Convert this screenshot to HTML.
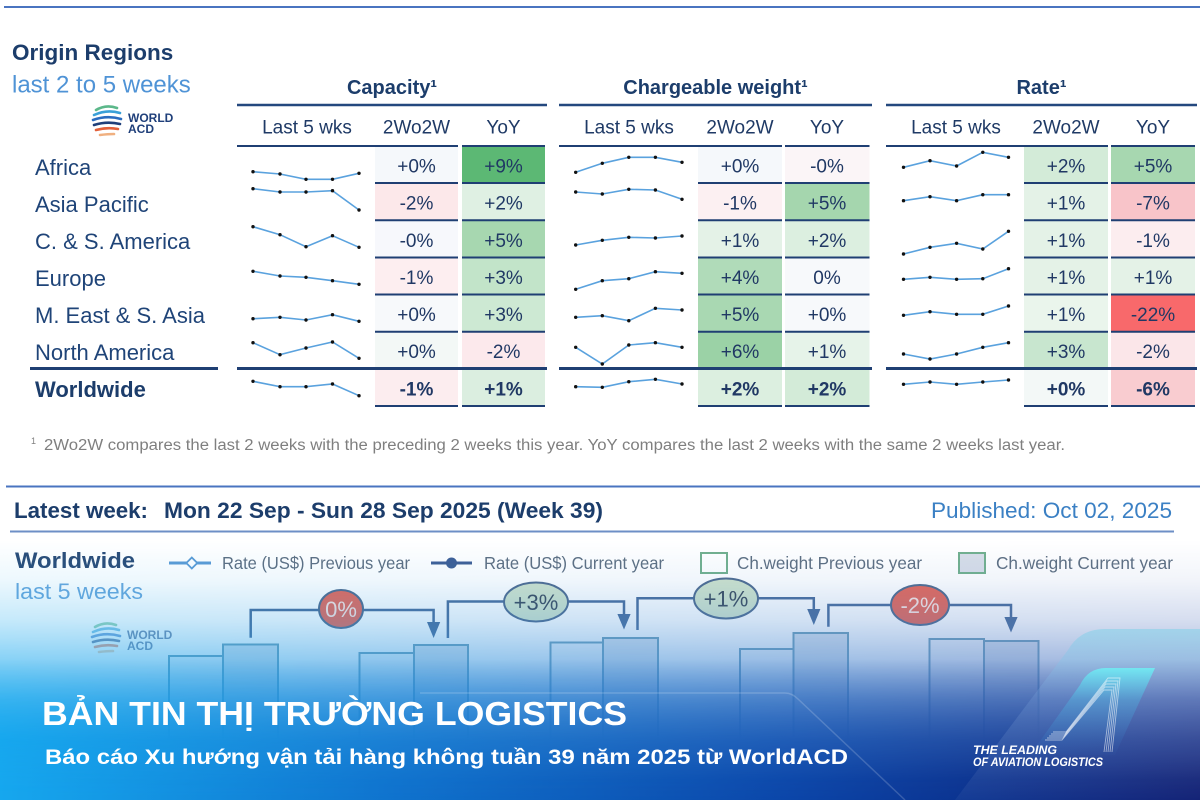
<!DOCTYPE html>
<html><head><meta charset="utf-8"><style>
html,body{margin:0;padding:0;background:#fff;}
svg{display:block;}
text{font-family:"Liberation Sans","DejaVu Sans",Arial,sans-serif;}
</style></head><body>
<svg width="1200" height="800" viewBox="0 0 1200 800" xmlns="http://www.w3.org/2000/svg">
<defs>
<marker id="d" viewBox="0 0 4 4" refX="2" refY="2" markerWidth="4" markerHeight="4" markerUnits="userSpaceOnUse"><circle cx="2" cy="2" r="1.7" fill="#111"/></marker>
<linearGradient id="hA" x1="0" y1="0" x2="1200" y2="0" gradientUnits="userSpaceOnUse">
<stop offset="0" stop-color="#18a8ee"/><stop offset="0.5" stop-color="#3f8fd8"/><stop offset="1" stop-color="#5a78c0"/></linearGradient>
<linearGradient id="hB" x1="0" y1="0" x2="1200" y2="0" gradientUnits="userSpaceOnUse">
<stop offset="0" stop-color="#16a7ee"/><stop offset="0.33" stop-color="#0f72cd"/><stop offset="0.66" stop-color="#0b45a8"/><stop offset="1" stop-color="#0a1a70"/></linearGradient>
<linearGradient id="mA" x1="0" y1="540" x2="0" y2="800" gradientUnits="userSpaceOnUse">
<stop offset="0" stop-color="#fff" stop-opacity="0"/>
<stop offset="0.154" stop-color="#fff" stop-opacity="0.08"/>
<stop offset="0.308" stop-color="#fff" stop-opacity="0.25"/>
<stop offset="0.385" stop-color="#fff" stop-opacity="0.38"/>
<stop offset="0.615" stop-color="#fff" stop-opacity="0.8"/>
<stop offset="0.77" stop-color="#fff" stop-opacity="1"/>
<stop offset="1" stop-color="#fff" stop-opacity="1"/></linearGradient>
<linearGradient id="mB" x1="0" y1="540" x2="0" y2="800" gradientUnits="userSpaceOnUse">
<stop offset="0" stop-color="#fff" stop-opacity="0"/>
<stop offset="0.46" stop-color="#fff" stop-opacity="0"/>
<stop offset="0.692" stop-color="#fff" stop-opacity="0.5"/>
<stop offset="0.923" stop-color="#fff" stop-opacity="0.95"/>
<stop offset="1" stop-color="#fff" stop-opacity="1"/></linearGradient>
<mask id="maskA"><rect x="0" y="540" width="1200" height="260" fill="url(#mA)"/></mask>
<mask id="maskB"><rect x="0" y="540" width="1200" height="260" fill="url(#mB)"/></mask>
<linearGradient id="band" x1="0" y1="629" x2="0" y2="800" gradientUnits="userSpaceOnUse">
<stop offset="0" stop-color="#6fd0e8" stop-opacity="0.45"/><stop offset="0.4" stop-color="#8fb8e8" stop-opacity="0.18"/><stop offset="1" stop-color="#ffffff" stop-opacity="0.04"/></linearGradient>
<linearGradient id="cyan" x1="0" y1="668" x2="0" y2="760" gradientUnits="userSpaceOnUse">
<stop offset="0" stop-color="#6ff0f5" stop-opacity="0.85"/><stop offset="0.35" stop-color="#4cc0e8" stop-opacity="0.35"/><stop offset="1" stop-color="#3a8ad8" stop-opacity="0"/></linearGradient>
</defs>
<rect width="1200" height="800" fill="#fff"/>
<line x1="4" y1="7" x2="1200" y2="7" stroke="#4a74c0" stroke-width="2"/>

<text x="12" y="60" font-size="22.5" font-weight="bold" fill="#1c3d6b">Origin Regions</text>
<text x="12" y="92.5" font-size="24" fill="#4f93d6">last 2 to 5 weeks</text>

<!-- logo -->
<g id="logo">
<g fill="none" stroke-linecap="round" stroke-width="2.6">
<path d="M96,110 Q106,104 117,108" stroke="#5cb88a"/>
<path d="M94,115 Q107,109 120,113" stroke="#3aa0d8"/>
<path d="M93,120 Q107,115 121,119" stroke="#2a6cc0"/>
<path d="M94,125 Q107,121 120,124" stroke="#1f3f7a"/>
<path d="M96,130 Q107,127 118,129" stroke="#e2603a"/>
<path d="M100,135 Q108,134 114,134" stroke="#f0b080"/>
</g>
<text x="128" y="122" font-size="12" font-weight="bold" fill="#1f3f7a">WORLD</text>
<text x="128" y="133" font-size="12" font-weight="bold" fill="#1f3f7a">ACD</text>
</g>

<!-- headers -->
<g font-size="20" font-weight="bold" fill="#1c3d6b" text-anchor="middle">
<text x="392" y="94">Capacity¹</text>
<text x="715.5" y="94">Chargeable weight¹</text>
<text x="1041.5" y="94">Rate¹</text>
</g>
<g stroke="#24487e" stroke-width="2.5">
<line x1="237" y1="105" x2="547" y2="105"/>
<line x1="559" y1="105" x2="872" y2="105"/>
<line x1="886" y1="105" x2="1197" y2="105"/>
</g>
<g font-size="19" fill="#1f3a66" text-anchor="middle">
<text x="307" y="133.5">Last 5 wks</text><text x="416.5" y="133.5">2Wo2W</text><text x="503.5" y="133.5">YoY</text>
<text x="629" y="133.5">Last 5 wks</text><text x="740" y="133.5">2Wo2W</text><text x="827" y="133.5">YoY</text>
<text x="956" y="133.5">Last 5 wks</text><text x="1066" y="133.5">2Wo2W</text><text x="1153" y="133.5">YoY</text>
</g>

<!-- cells -->
<g>
<!-- capacity c1 -->
<rect x="375" y="146" width="83" height="37" fill="#f5f8fb"/>
<rect x="375" y="183" width="83" height="37.3" fill="#fce8ea"/>
<rect x="375" y="220.3" width="83" height="37.2" fill="#f7f8fc"/>
<rect x="375" y="257.5" width="83" height="37" fill="#fdeef0"/>
<rect x="375" y="294.5" width="83" height="37.2" fill="#f7f9fb"/>
<rect x="375" y="331.7" width="83" height="36.8" fill="#f3f8f6"/>
<rect x="375" y="368.5" width="83" height="37.5" fill="#fcedef"/>
<!-- capacity c2 -->
<rect x="462" y="146" width="83" height="37" fill="#5cb874"/>
<rect x="462" y="183" width="83" height="37.3" fill="#dff0e3"/>
<rect x="462" y="220.3" width="83" height="37.2" fill="#a7d7b0"/>
<rect x="462" y="257.5" width="83" height="37" fill="#c2e4c9"/>
<rect x="462" y="294.5" width="83" height="37.2" fill="#cde9d3"/>
<rect x="462" y="331.7" width="83" height="36.8" fill="#fce9ec"/>
<rect x="462" y="368.5" width="83" height="37.5" fill="#dbeee0"/>
<!-- ch c1 -->
<rect x="698" y="146" width="84" height="37" fill="#f5f8fb"/>
<rect x="698" y="183" width="84" height="37.3" fill="#fcf0f2"/>
<rect x="698" y="220.3" width="84" height="37.2" fill="#e4f2e7"/>
<rect x="698" y="257.5" width="84" height="37" fill="#b0dbb9"/>
<rect x="698" y="294.5" width="84" height="37.2" fill="#a9d8b2"/>
<rect x="698" y="331.7" width="84" height="36.8" fill="#9bd2a6"/>
<rect x="698" y="368.5" width="84" height="37.5" fill="#dcefe0"/>
<!-- ch c2 -->
<rect x="785" y="146" width="84.5" height="37" fill="#fbf5f7"/>
<rect x="785" y="183" width="84.5" height="37.3" fill="#a5d6ae"/>
<rect x="785" y="220.3" width="84.5" height="37.2" fill="#dcefe0"/>
<rect x="785" y="257.5" width="84.5" height="37" fill="#f7f9fb"/>
<rect x="785" y="294.5" width="84.5" height="37.2" fill="#f7f9fb"/>
<rect x="785" y="331.7" width="84.5" height="36.8" fill="#e6f3e9"/>
<rect x="785" y="368.5" width="84.5" height="37.5" fill="#d3ebd8"/>
<!-- rate c1 -->
<rect x="1024" y="146" width="84" height="37" fill="#d3ebd8"/>
<rect x="1024" y="183" width="84" height="37.3" fill="#e4f2e7"/>
<rect x="1024" y="220.3" width="84" height="37.2" fill="#e4f2e7"/>
<rect x="1024" y="257.5" width="84" height="37" fill="#e4f2e7"/>
<rect x="1024" y="294.5" width="84" height="37.2" fill="#eaf5ec"/>
<rect x="1024" y="331.7" width="84" height="36.8" fill="#c8e6cf"/>
<rect x="1024" y="368.5" width="84" height="37.5" fill="#f3f8f7"/>
<!-- rate c2 -->
<rect x="1111" y="146" width="84" height="37" fill="#a7d7b0"/>
<rect x="1111" y="183" width="84" height="37.3" fill="#f8c4c9"/>
<rect x="1111" y="220.3" width="84" height="37.2" fill="#fcedef"/>
<rect x="1111" y="257.5" width="84" height="37" fill="#e4f2e7"/>
<rect x="1111" y="294.5" width="84" height="37.2" fill="#f8696b"/>
<rect x="1111" y="331.7" width="84" height="36.8" fill="#fbe6e9"/>
<rect x="1111" y="368.5" width="84" height="37.5" fill="#f9ccd0"/>
</g>

<!-- row lines -->
<g stroke="#1f3f73" stroke-width="2">
<line x1="237" y1="146" x2="458" y2="146"/><line x1="462" y1="146" x2="545" y2="146"/>
<line x1="559" y1="146" x2="782" y2="146"/><line x1="785" y1="146" x2="869.5" y2="146"/>
<line x1="886" y1="146" x2="1108" y2="146"/><line x1="1111" y1="146" x2="1195" y2="146"/>
</g>
<g stroke="#1f3f73" stroke-width="2">
<path d="M375,183H458M462,183H545M698,183H782M785,183H869.5M1024,183H1108M1111,183H1195"/>
<path d="M375,220.3H458M462,220.3H545M698,220.3H782M785,220.3H869.5M1024,220.3H1108M1111,220.3H1195"/>
<path d="M375,257.5H458M462,257.5H545M698,257.5H782M785,257.5H869.5M1024,257.5H1108M1111,257.5H1195"/>
<path d="M375,294.5H458M462,294.5H545M698,294.5H782M785,294.5H869.5M1024,294.5H1108M1111,294.5H1195"/>
<path d="M375,331.7H458M462,331.7H545M698,331.7H782M785,331.7H869.5M1024,331.7H1108M1111,331.7H1195"/>
<path d="M375,406H458M462,406H545M698,406H782M785,406H869.5M1024,406H1108M1111,406H1195"/>
</g>
<g stroke="#1f3f73" stroke-width="3">
<line x1="30" y1="368.5" x2="218" y2="368.5"/>
<line x1="237" y1="368.5" x2="547" y2="368.5"/>
<line x1="559" y1="368.5" x2="872" y2="368.5"/>
<line x1="886" y1="368.5" x2="1197" y2="368.5"/>
</g>

<!-- region labels -->
<g font-size="22" fill="#1f4478">
<text x="35" y="175">Africa</text>
<text x="35" y="212">Asia Pacific</text>
<text x="35" y="249">C. &amp; S. America</text>
<text x="35" y="286">Europe</text>
<text x="35" y="323">M. East &amp; S. Asia</text>
<text x="35" y="360">North America</text>
<text x="35" y="397" font-weight="bold" fill="#1c3d6b">Worldwide</text>
</g>

<!-- values -->
<g font-size="19" fill="#203864" text-anchor="middle">
<text x="416.5" y="172.5">+0%</text><text x="416.5" y="209.6">-2%</text><text x="416.5" y="246.9">-0%</text><text x="416.5" y="284">-1%</text><text x="416.5" y="321.1">+0%</text><text x="416.5" y="358.1">+0%</text>
<text x="503.5" y="172.5">+9%</text><text x="503.5" y="209.6">+2%</text><text x="503.5" y="246.9">+5%</text><text x="503.5" y="284">+3%</text><text x="503.5" y="321.1">+3%</text><text x="503.5" y="358.1">-2%</text>
<text x="740" y="172.5">+0%</text><text x="740" y="209.6">-1%</text><text x="740" y="246.9">+1%</text><text x="740" y="284">+4%</text><text x="740" y="321.1">+5%</text><text x="740" y="358.1">+6%</text>
<text x="827" y="172.5">-0%</text><text x="827" y="209.6">+5%</text><text x="827" y="246.9">+2%</text><text x="827" y="284">0%</text><text x="827" y="321.1">+0%</text><text x="827" y="358.1">+1%</text>
<text x="1066" y="172.5">+2%</text><text x="1066" y="209.6">+1%</text><text x="1066" y="246.9">+1%</text><text x="1066" y="284">+1%</text><text x="1066" y="321.1">+1%</text><text x="1066" y="358.1">+3%</text>
<text x="1153" y="172.5">+5%</text><text x="1153" y="209.6">-7%</text><text x="1153" y="246.9">-1%</text><text x="1153" y="284">+1%</text><text x="1153" y="321.1">-22%</text><text x="1153" y="358.1">-2%</text>
<g font-weight="bold">
<text x="416.5" y="395.3">-1%</text><text x="503.5" y="395.3">+1%</text>
<text x="740" y="395.3">+2%</text><text x="827" y="395.3">+2%</text>
<text x="1066" y="395.3">+0%</text><text x="1153" y="395.3">-6%</text>
</g>
</g>

<!-- sparklines -->
<g fill="none" stroke="#5aa2de" stroke-width="1.6" marker-start="url(#d)" marker-mid="url(#d)" marker-end="url(#d)">
<polyline points="253,171.7 280,174 306,179.3 332.5,179.3 359,173.3"/>
<polyline points="253,188.7 280,192 306,192 332.5,190.7 359,210"/>
<polyline points="253,226.7 280,234.7 306,246.7 332.5,235.7 359,247.3"/>
<polyline points="253,271.3 280,276 306,277.3 332.5,280.7 359,284.3"/>
<polyline points="253,318.7 280,317.3 306,320 332.5,314.7 359,321.3"/>
<polyline points="253,342.7 280,354.7 306,348 332.5,342 359,358.3"/>
<polyline points="253,381.3 280,386.7 306,386.7 332.5,384 359,395.7"/>

<polyline points="575.7,172.3 602.3,163.3 628.8,157.3 655.4,157.3 682,162.3"/>
<polyline points="575.7,192 602.3,194 628.8,189.3 655.4,190 682,199.3"/>
<polyline points="575.7,245 602.3,240.3 628.8,237.3 655.4,238 682,236"/>
<polyline points="575.7,289.3 602.3,280.7 628.8,278.7 655.4,271.7 682,273.3"/>
<polyline points="575.7,317.3 602.3,315.7 628.8,320.7 655.4,308.3 682,310"/>
<polyline points="575.7,347.3 602.3,364 628.8,345 655.4,342.7 682,347.3"/>
<polyline points="575.7,386.7 602.3,387.3 628.8,381.7 655.4,379.3 682,384"/>

<polyline points="903.5,167.3 930,160.7 956.6,166 982.8,152.3 1008.5,157.3"/>
<polyline points="903.5,200.7 930,196.7 956.6,200.7 982.8,194.7 1008.5,194.7"/>
<polyline points="903.5,254 930,247.3 956.6,243.3 982.8,249 1008.5,231.3"/>
<polyline points="903.5,279.3 930,277.3 956.6,279.3 982.8,278.7 1008.5,268.7"/>
<polyline points="903.5,315.3 930,311.7 956.6,314.3 982.8,314.3 1008.5,306"/>
<polyline points="903.5,354 930,359 956.6,354 982.8,347.3 1008.5,342.7"/>
<polyline points="903.5,384.3 930,382 956.6,384.3 982.8,382 1008.5,380"/>
</g>

<!-- footnote -->
<text x="31" y="444" font-size="9" fill="#808080">1</text>
<text x="44" y="450" font-size="15.5" fill="#7f7f7f" textLength="1021" lengthAdjust="spacingAndGlyphs">2Wo2W compares the last 2 weeks with the preceding 2 weeks this year. YoY compares the last 2 weeks with the same 2 weeks last year.</text>

<line x1="6" y1="486.5" x2="1200" y2="486.5" stroke="#4a74c0" stroke-width="2"/>
<text x="14" y="518" font-size="22" font-weight="bold" fill="#1c3d6b" textLength="134" lengthAdjust="spacingAndGlyphs">Latest week:</text>
<text x="164" y="518" font-size="22" font-weight="bold" fill="#1c3d6b" textLength="439" lengthAdjust="spacingAndGlyphs">Mon 22 Sep - Sun 28 Sep 2025 (Week 39)</text>
<text x="931" y="518" font-size="22" fill="#3b80c4" textLength="241" lengthAdjust="spacingAndGlyphs">Published: Oct 02, 2025</text>
<line x1="10" y1="531.5" x2="1174" y2="531.5" stroke="#6d8fc6" stroke-width="2"/>

<!-- lower chart (under overlay) -->
<text x="15" y="568" font-size="22" font-weight="bold" fill="#2b4c78" textLength="120" lengthAdjust="spacingAndGlyphs">Worldwide</text>
<text x="15" y="599" font-size="22" fill="#6aa7dc" textLength="128" lengthAdjust="spacingAndGlyphs">last 5 weeks</text>
<g transform="translate(-1,517)" opacity="0.6"><use href="#logo"/></g>

<line x1="169" y1="563" x2="211" y2="563" stroke="#5b9bd5" stroke-width="3"/>
<path d="M191.8,557.5 L197.3,563 L191.8,568.5 L186.3,563Z" fill="#fff" stroke="#5b9bd5" stroke-width="1.8"/>
<g font-size="17.5" fill="#5e6f82">
<text x="222" y="569" textLength="188" lengthAdjust="spacingAndGlyphs">Rate (US$) Previous year</text>
<text x="484" y="569" textLength="180" lengthAdjust="spacingAndGlyphs">Rate (US$) Current year</text>
<text x="737" y="569" textLength="185" lengthAdjust="spacingAndGlyphs">Ch.weight Previous year</text>
<text x="996" y="569" textLength="177" lengthAdjust="spacingAndGlyphs">Ch.weight Current year</text>
</g>
<line x1="431" y1="563" x2="472" y2="563" stroke="#3e5f96" stroke-width="3"/>
<circle cx="451.5" cy="563" r="5.5" fill="#3e5f96"/>
<rect x="701" y="553" width="26" height="20" fill="#fff" stroke="#72b08e" stroke-width="2"/>
<rect x="959" y="553" width="26" height="20" fill="#d8dee9" stroke="#72b08e" stroke-width="2"/>

<!-- bars -->
<g stroke="#6f9fb8" stroke-width="2">
<rect x="169" y="656" width="54" height="160" fill="#f4f7fa"/>
<rect x="223" y="644.5" width="55" height="170" fill="#dbe3ed"/>
<rect x="359.5" y="653" width="54.5" height="160" fill="#f4f7fa"/>
<rect x="414" y="645" width="54" height="170" fill="#dbe3ed"/>
<rect x="550.5" y="642.5" width="52.5" height="170" fill="#f4f7fa"/>
<rect x="603" y="638" width="55" height="170" fill="#dbe3ed"/>
<rect x="740" y="649" width="53.5" height="160" fill="#f4f7fa"/>
<rect x="793.5" y="633" width="54.5" height="170" fill="#dbe3ed"/>
<rect x="929.5" y="639" width="54.5" height="170" fill="#f4f7fa"/>
<rect x="984" y="641" width="54.5" height="170" fill="#dbe3ed"/>
</g>

<!-- connectors -->
<g fill="none" stroke="#4a6d9c" stroke-width="2.5">
<path d="M250.7,637.7 V610 H433.6 V624"/>
<path d="M447.9,638 V601.5 H624 V616"/>
<path d="M637.5,630 V598.3 H813.8 V611"/>
<path d="M828.4,626.7 V605 H1011 V619"/>
</g>
<g fill="#4a6d9c">
<polygon points="427,622 440.2,622 433.6,638"/>
<polygon points="617.4,614 630.6,614 624,629.5"/>
<polygon points="807.2,609 820.4,609 813.8,625"/>
<polygon points="1004.4,617 1017.6,617 1011,632.5"/>
</g>
<g stroke="#4f6b8f" stroke-width="2">
<ellipse cx="341" cy="609" rx="22" ry="19" fill="#e5685a"/>
<ellipse cx="536" cy="602" rx="32" ry="19.5" fill="#cfe3cc"/>
<ellipse cx="726" cy="598.5" rx="32" ry="20" fill="#cfe3cc"/>
<ellipse cx="920" cy="605" rx="29" ry="20" fill="#e5685a"/>
</g>
<g font-size="22" text-anchor="middle">
<text x="341" y="617" fill="#fbe5e0">0%</text>
<text x="536" y="610" fill="#3a4a5c">+3%</text>
<text x="726" y="606.5" fill="#3a4a5c">+1%</text>
<text x="920" y="613" fill="#fbe5e0">-2%</text>
</g>

<!-- overlay -->
<rect x="0" y="540" width="1200" height="260" fill="url(#hA)" mask="url(#maskA)"/>
<rect x="0" y="540" width="1200" height="260" fill="url(#hB)" mask="url(#maskB)"/>

<!-- decorative -->
<path d="M420,693 H785 Q792,693 798,699 L905,800" fill="none" stroke="#ffffff" stroke-opacity="0.18" stroke-width="1.5"/>
<path d="M1068,650 Q1080,629 1105,629 L1200,629 L1200,800 L955,800 Z" fill="url(#band)"/>
<path d="M1080,685 Q1088,668 1106,668 L1155,668 L1115,755 L1030,755 Z" fill="url(#cyan)"/>
<g fill="none" stroke="#ffffff" stroke-width="0.9" stroke-opacity="0.55">
<path d="M1045,740 L1062,740 L1104,690 L1112,690 L1104,752"/>
<path d="M1047,738 L1063,738 L1105,687 L1114,687 L1106,752"/>
<path d="M1049,736 L1064,736 L1106,684 L1116,684 L1108,752"/>
<path d="M1051,734 L1065,734 L1107,681 L1118,681 L1110,752"/>
<path d="M1053,732 L1066,732 L1108,678 L1120,678 L1112,752"/>
</g>
<g font-size="12" font-weight="bold" font-style="italic" fill="#ffffff">
<text x="973" y="754" textLength="84" lengthAdjust="spacingAndGlyphs">THE LEADING</text>
<text x="973" y="766" textLength="130" lengthAdjust="spacingAndGlyphs">OF AVIATION LOGISTICS</text>
</g>

<text x="42" y="725" font-size="33" font-weight="bold" fill="#ffffff" textLength="585" lengthAdjust="spacingAndGlyphs">BẢN TIN THỊ TRƯỜNG LOGISTICS</text>
<text x="45" y="764" font-size="21" font-weight="bold" fill="#ffffff" textLength="803" lengthAdjust="spacingAndGlyphs">Báo cáo Xu hướng vận tải hàng không tuần 39 năm 2025 từ WorldACD</text>
</svg>
</body></html>
